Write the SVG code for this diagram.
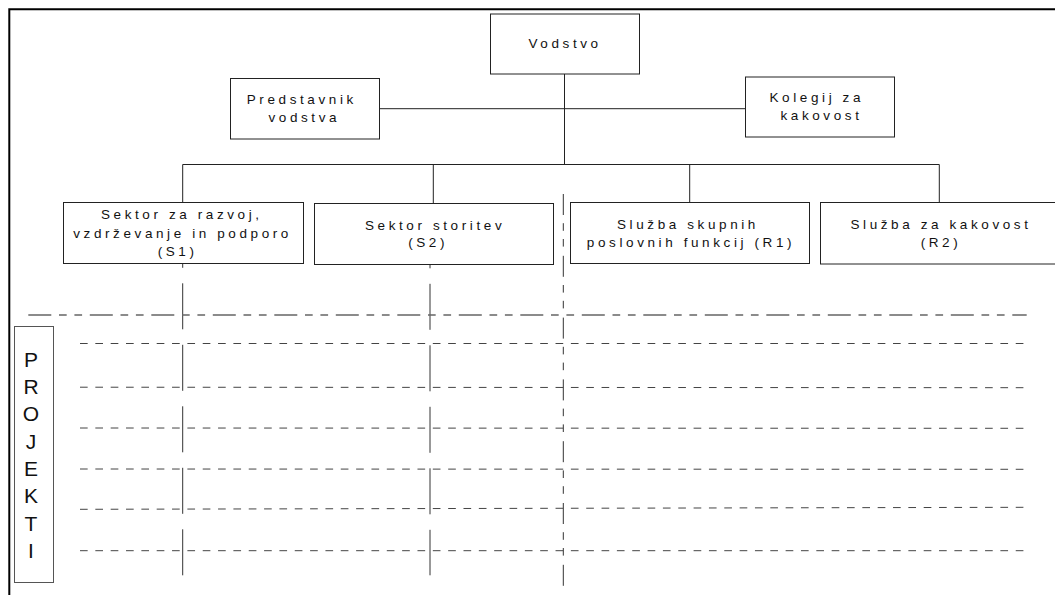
<svg xmlns="http://www.w3.org/2000/svg" width="1055" height="595" viewBox="0 0 1055 595">
<style>
.box{fill:#fff;stroke:#222;stroke-width:1}
.lbl{font-family:"Liberation Sans",Arial,sans-serif;font-size:13.5px;letter-spacing:3.6px;fill:#111;text-anchor:middle}
.big{font-family:"Liberation Sans",Arial,sans-serif;font-size:21px;fill:#111;text-anchor:middle}
.con{stroke:#222;stroke-width:1;fill:none}
.vdash{stroke:#333;stroke-width:1;fill:none;stroke-dasharray:46 15.5;stroke-dashoffset:42.2}
.hdash{stroke:#444;stroke-width:1;fill:none;stroke-dasharray:7.67 7.67}
.ddot{stroke:#666;stroke-width:1.4;fill:none;stroke-dasharray:23 7.7 7.7 7.7 7.7 7.7}
.vddot{stroke:#333;stroke-width:1;fill:none;stroke-dasharray:21 8.2 7.6 8.2 7.6 9.2}
</style>
<rect width="1055" height="595" fill="#fff"/>
<path d="M9.3 600V9.3H1060" fill="none" stroke="#000" stroke-width="2"/>
<g id="connectors">
<line class="con" x1="564.5" y1="74" x2="564.5" y2="164.5"/>
<line class="con" x1="379.5" y1="108.7" x2="745.5" y2="108.7"/>
<line class="con" x1="182.7" y1="164.5" x2="939.3" y2="164.5"/>
<line class="con" x1="182.7" y1="164.5" x2="182.7" y2="202.5"/>
<line class="con" x1="433.3" y1="164.5" x2="433.3" y2="203.5"/>
<line class="con" x1="689.7" y1="164.5" x2="689.7" y2="202.5"/>
<line class="con" x1="939.3" y1="164.5" x2="939.3" y2="202.5"/>
<line class="vdash" x1="182.7" y1="264" x2="182.7" y2="575.3"/>
<line class="vdash" x1="430" y1="264.5" x2="430" y2="575.3"/>
<line class="vddot" x1="563.3" y1="194" x2="563.3" y2="587"/>
<line class="ddot" x1="28.3" y1="315" x2="1026.7" y2="315"/>
<line class="hdash" x1="80" y1="343.5" x2="1026" y2="343.5"/>
<line class="hdash" x1="80" y1="387.2" x2="1026" y2="387.7"/>
<line class="hdash" x1="80" y1="428" x2="1026" y2="428.3"/>
<line class="hdash" x1="80" y1="469" x2="1026" y2="469.3"/>
<line class="hdash" x1="80" y1="509.3" x2="1026" y2="507.3"/>
<line class="hdash" x1="80" y1="550.7" x2="1026" y2="550.7"/>
</g>
<g id="vodstvo">
<rect class="box" x="490.5" y="14" width="149" height="60"/>
<text class="lbl" x="565.1" y="48.3">Vodstvo</text>
</g>
<g id="predstavnik">
<rect class="box" x="230.5" y="78.5" width="149" height="60.5"/>
<text class="lbl" x="301.8" y="104.3">Predstavnik</text>
<text class="lbl" x="304.3" y="122.3">vodstva</text>
</g>
<g id="kolegij">
<rect class="box" x="745.5" y="77" width="149" height="60"/>
<text class="lbl" x="816.8" y="101.7">Kolegij za</text>
<text class="lbl" x="821.5" y="120">kakovost</text>
</g>
<g id="s1">
<rect class="box" x="63.5" y="202.5" width="240" height="61"/>
<text class="lbl" x="181.8" y="219.3">Sektor za razvoj,</text>
<text class="lbl" x="182.6" y="237.7">vzdrževanje in podporo</text>
<text class="lbl" x="177.6" y="256">(S1)</text>
</g>
<g id="s2">
<rect class="box" x="314.5" y="203.5" width="239" height="61"/>
<text class="lbl" x="435.1" y="230">Sektor storitev</text>
<text class="lbl" x="428.1" y="247.3">(S2)</text>
</g>
<g id="r1">
<rect class="box" x="570.5" y="202.5" width="239" height="61"/>
<text class="lbl" x="688" y="229.3">Služba skupnih</text>
<text class="lbl" x="691" y="246.7">poslovnih funkcij (R1)</text>
</g>
<g id="r2">
<rect class="box" x="820.5" y="202.5" width="239" height="61.5"/>
<text class="lbl" x="941" y="229.3">Služba za kakovost</text>
<text class="lbl" x="941" y="246.7">(R2)</text>
</g>
<g id="projekti">
<rect x="14.5" y="326.5" width="39" height="256" fill="#fff" stroke="#555" stroke-width="1"/>
<text class="big" x="31" y="366.5">P</text>
<text class="big" x="31" y="393.9">R</text>
<text class="big" x="31" y="421.2">O</text>
<text class="big" x="31" y="448.6">J</text>
<text class="big" x="31" y="475.9">E</text>
<text class="big" x="31" y="503.3">K</text>
<text class="big" x="31" y="530.6">T</text>
<text class="big" x="31" y="558">I</text>
</g>
</svg>
